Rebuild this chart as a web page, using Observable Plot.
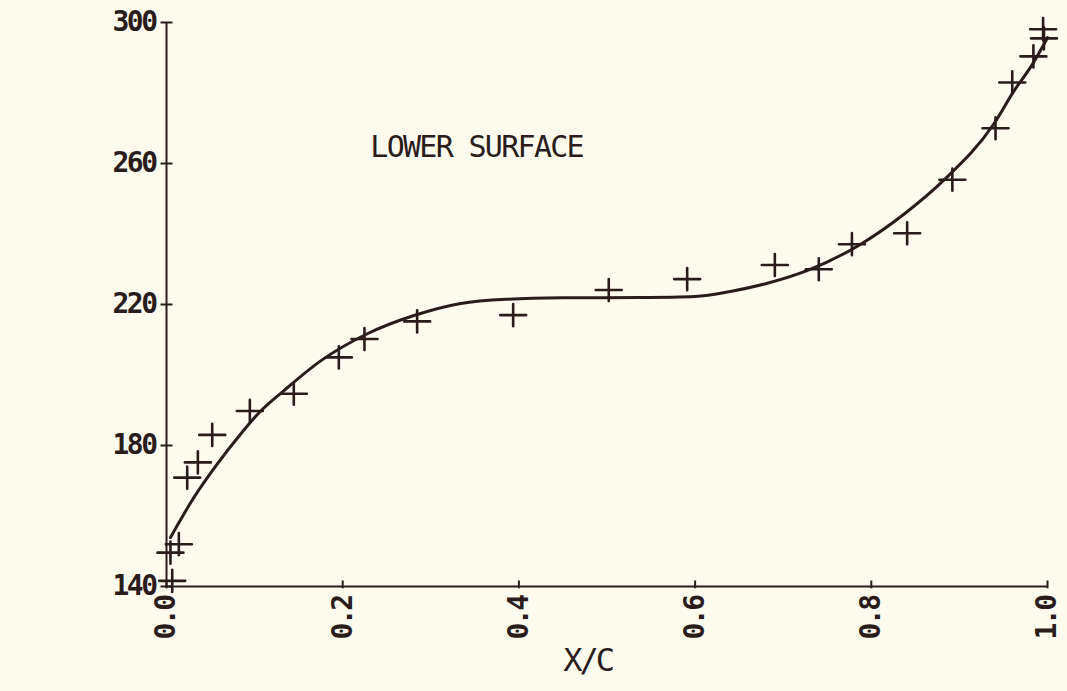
<!DOCTYPE html>
<html>
<head>
<meta charset="utf-8">
<script src="https://cdn.jsdelivr.net/npm/d3@7"></script>
<script src="https://cdn.jsdelivr.net/npm/@observablehq/plot@0.6"></script>
<style>
  html, body { margin: 0; padding: 0; background: #fcfbee; }
  #chart svg { display: block; }
</style>
</head>
<body>
<div id="chart"></div>
<script>
// Measured points (crosses)
const measX = [0.0065, 0.0045, 0.014, 0.0235, 0.0356, 0.0519, 0.0946, 0.1445, 0.1956, 0.2247, 0.2845, 0.3935, 0.502, 0.591, 0.6905, 0.7404, 0.778, 0.8407, 0.892, 0.941, 0.960, 0.984, 0.996, 0.995];
const measY = [141.6, 149.6, 152.0, 170.9, 175.2, 183.0, 189.8, 194.7, 205.0, 210.2, 215.2, 217.0, 224.1, 227.2, 231.2, 230.0, 237.1, 240.2, 255.4, 270.0, 283.0, 290.4, 295.5, 298.1];

// Fitted curve
const fitX = [0.0045, 0.031, 0.0575, 0.084, 0.107, 0.133, 0.175, 0.228, 0.280, 0.334, 0.387, 0.45, 0.538, 0.600, 0.640, 0.680, 0.727, 0.788, 0.837, 0.882, 0.939, 0.962, 0.983, 1.0];
const fitY = [153.9, 165.2, 174.7, 183.2, 189.8, 195.5, 204.0, 211.7, 216.8, 220.3, 221.5, 221.9, 222.0, 222.3, 223.7, 225.9, 229.6, 237.1, 245.6, 255.2, 271.2, 280.6, 288.2, 295.7];

// Tick values and labels
const xTicks = [0, 0.2, 0.4, 0.6, 0.8, 1.0];
const xTickLabels = ["0.0", "0.2", "0.4", "0.6", "0.8", "1.0"];
const yTicks = [140, 180, 220, 260, 300];
const yTickLabels = ["140", "180", "220", "260", "300"];
const titleText = "LOWER SURFACE";
const xLabel = "X/C";

const ink = "#2b1c1c";
const font = "DejaVu Sans Mono";

const meas = measX.map((x, i) => ({x, y: measY[i]}));
const fit = fitX.map((x, i) => ({x, y: fitY[i]}));

// custom symbols
const plusSym = {
  draw(ctx, size) {
    const r = Math.sqrt(size / Math.PI);
    ctx.moveTo(-r, 0); ctx.lineTo(r, 0);
    ctx.moveTo(0, -r * 0.85); ctx.lineTo(0, r * 0.85);
  }
};
const hTick = {
  draw(ctx, size) {
    const r = Math.sqrt(size / Math.PI);
    ctx.moveTo(-r, 0); ctx.lineTo(r, 0);
  }
};
const vTick = {
  draw(ctx, size) {
    const r = Math.sqrt(size / Math.PI);
    ctx.moveTo(0, -r); ctx.lineTo(0, r * 0.3);
  }
};

const chart = Plot.plot({
  width: 1067,
  height: 691,
  marginLeft: 166,
  marginRight: 20,
  marginTop: 22,
  marginBottom: 105,
  style: {background: "transparent", fontFamily: font, color: ink},
  x: {domain: [0, 1], axis: null},
  y: {domain: [140, 300], axis: null},
  marks: [
    Plot.ruleX([0], {y1: 140, y2: 300, stroke: ink, strokeWidth: 2}),
    Plot.ruleY([140], {x1: 0, x2: 1, stroke: ink, strokeWidth: 2}),
    Plot.dot(yTicks, {x: () => 0, y: d => d, symbol: hTick, r: 6, stroke: ink, strokeWidth: 2, fill: "none"}),
    Plot.dot(xTicks, {x: d => d, y: () => 140, symbol: vTick, r: 6, stroke: ink, strokeWidth: 2, fill: "none"}),
    Plot.text(yTicks, {x: () => 0, y: d => d, text: (d, i) => yTickLabels[i], dx: -11, textAnchor: "end", fontSize: 28, fill: ink, fontWeight: "bold"}),
    Plot.text(xTicks, {x: d => d, y: () => 140, text: (d, i) => xTickLabels[i], dy: 10, rotate: -90, textAnchor: "end", fontSize: 28, fill: ink, fontWeight: "bold"}),
    Plot.line(fit, {x: "x", y: "y", curve: "monotone-x", stroke: ink, strokeWidth: 3}),
    Plot.dot(meas, {x: "x", y: "y", symbol: plusSym, r: 13, stroke: ink, strokeWidth: 2.6, fill: "none", strokeLinecap: "round"}),
    Plot.text([titleText], {x: 0.352, y: 264.7, fontSize: 30, fill: ink}),
    Plot.text([xLabel], {x: 0.478, frameAnchor: "bottom", dy: 84, fontSize: 32, fill: ink})
  ]
});
d3.select(chart).selectAll("text").each(function() {
  const t = this.textContent;
  let ls = "-2.5px";
  if (t === titleText) ls = "-1.7px";
  else if (t === xLabel) ls = "-3px";
  this.setAttribute("letter-spacing", ls);
  this.style.letterSpacing = ls;
});
document.getElementById("chart").appendChild(chart);
</script>
</body>
</html>
